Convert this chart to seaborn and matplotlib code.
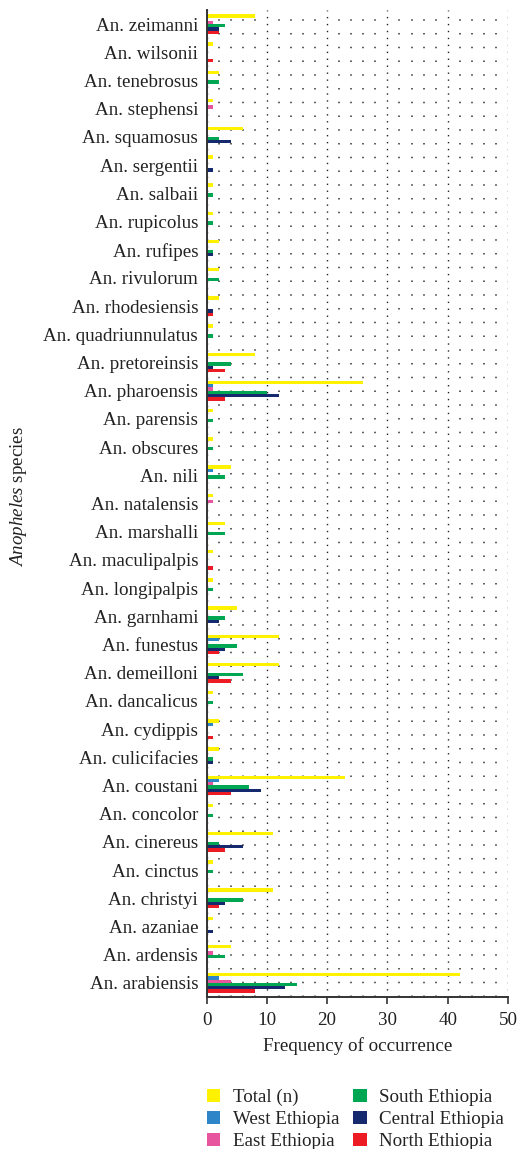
import matplotlib
matplotlib.use("Agg")
import matplotlib.pyplot as plt
import seaborn as sns
import pandas as pd

# ------------------------------------------------------------------
# data (top-to-bottom order as in the chart)
# ------------------------------------------------------------------
species = [
    "An. zeimanni", "An. wilsonii", "An. tenebrosus", "An. stephensi",
    "An. squamosus", "An. sergentii", "An. salbaii", "An. rupicolus",
    "An. rufipes", "An. rivulorum", "An. rhodesiensis", "An. quadriunnulatus",
    "An. pretoreinsis", "An. pharoensis", "An. parensis", "An. obscures",
    "An. nili", "An. natalensis", "An. marshalli", "An. maculipalpis",
    "An. longipalpis", "An. garnhami", "An. funestus", "An. demeilloni",
    "An. dancalicus", "An. cydippis", "An. culicifacies", "An. coustani",
    "An. concolor", "An. cinereus", "An. cinctus", "An. christyi",
    "An. azaniae", "An. ardensis", "An. arabiensis",
]
total   = [8, 1, 2, 1, 6, 1, 1, 1, 2, 2, 2, 1, 8, 26, 1, 1, 4, 1, 3, 1, 1, 5, 12, 12, 1, 2, 2, 23, 1, 11, 1, 11, 1, 4, 42]
west    = [0, 0, 0, 0, 0, 0, 0, 0, 0, 0, 0, 0, 0, 1, 0, 0, 1, 0, 0, 0, 0, 0, 2, 0, 0, 1, 0, 2, 0, 0, 0, 0, 0, 0, 2]
east    = [1, 0, 0, 1, 0, 0, 0, 0, 0, 0, 0, 0, 0, 1, 0, 0, 0, 1, 0, 0, 0, 0, 0, 0, 0, 0, 0, 1, 0, 0, 0, 0, 0, 1, 4]
south   = [3, 0, 2, 0, 2, 0, 1, 1, 1, 2, 0, 1, 4, 10, 1, 1, 3, 0, 3, 0, 1, 3, 5, 6, 1, 0, 1, 7, 1, 2, 1, 6, 0, 3, 15]
central = [2, 0, 0, 0, 4, 1, 0, 0, 1, 0, 1, 0, 1, 12, 0, 0, 0, 0, 0, 0, 0, 2, 3, 2, 0, 0, 1, 9, 0, 6, 0, 3, 1, 0, 13]
north   = [2, 1, 0, 0, 0, 0, 0, 0, 0, 0, 1, 0, 3, 3, 0, 0, 0, 0, 0, 1, 0, 0, 2, 4, 0, 1, 0, 4, 0, 3, 0, 2, 0, 0, 8]

regions = ["Total (n)", "West Ethiopia", "East Ethiopia",
           "South Ethiopia", "Central Ethiopia", "North Ethiopia"]
colors = ["#FFF200", "#2E86C8", "#E8559F", "#00A651", "#15296E", "#ED1C24"]

series = [total, west, east, south, central, north]
rows = []
for reg, vals in zip(regions, series):
    for sp, v in zip(species, vals):
        rows.append({"species": sp, "region": reg, "count": v})
df = pd.DataFrame(rows)

# ------------------------------------------------------------------
# style
# ------------------------------------------------------------------
sns.set_style("white")
plt.rcParams["font.family"] = ["Liberation Serif", "DejaVu Serif"]
plt.rcParams["mathtext.fontset"] = "custom"
plt.rcParams["mathtext.it"] = "Liberation Serif:italic"
plt.rcParams["mathtext.rm"] = "Liberation Serif"

FS = 13.7
TXT = "#222222"

fig = plt.figure(figsize=(5.18, 11.49), dpi=100)
ax = fig.add_axes([0.3987, 0.1323, 0.582, 0.8590])

sns.barplot(data=df, y="species", x="count", hue="region",
            order=species, hue_order=regions, palette=colors,
            orient="h", width=0.7, saturation=1, errorbar=None,
            linewidth=0, ax=ax)

handles, labels = ax.get_legend_handles_labels()
ax.get_legend().remove()

# grid: dense dots at every 10, sparse dots every 2
ax.set_xlim(0, 50)
ax.set_ylim(len(species) - 0.5, -0.5)
ax.set_xticks(range(0, 51, 10))
ax.set_xticks(range(0, 51, 2), minor=True)
ax.set_axisbelow(True)
ax.grid(axis="x", which="major", linestyle=(0, (1, 4)), color="#222222", lw=1)
ax.grid(axis="x", which="minor", linestyle=(0, (1, 8)), color="#333333", lw=1.1)

for s in ["top", "right"]:
    ax.spines[s].set_visible(False)
for s in ["left", "bottom"]:
    ax.spines[s].set_color("#333333")
    ax.spines[s].set_linewidth(1.4)

ax.tick_params(axis="y", length=0, labelsize=FS, pad=6, labelcolor=TXT)
ax.tick_params(axis="x", which="major", length=5, width=1.2, color="#333333",
               labelsize=FS, labelcolor=TXT, direction="out", bottom=True, pad=6)
ax.tick_params(axis="x", which="minor", length=0)

ax.set_xlabel("Frequency of occurrence", fontsize=FS, color=TXT)
ax.xaxis.set_label_coords(0.5, -0.041)
ax.set_ylabel(r"$\mathit{Anopheles}$ species", fontsize=FS, color=TXT)
ax.yaxis.set_label_coords(-0.59, 0.507)

fig.legend(handles, labels, ncol=2, loc="upper left",
           bbox_to_anchor=(0.3996, 0.0525), frameon=False, fontsize=FS,
           handlelength=0.7, handleheight=0.7, handletextpad=0.65,
           columnspacing=0.75, labelspacing=0.25, borderpad=0,
           borderaxespad=0, labelcolor=TXT)

fig.savefig("out.png", dpi=100)
